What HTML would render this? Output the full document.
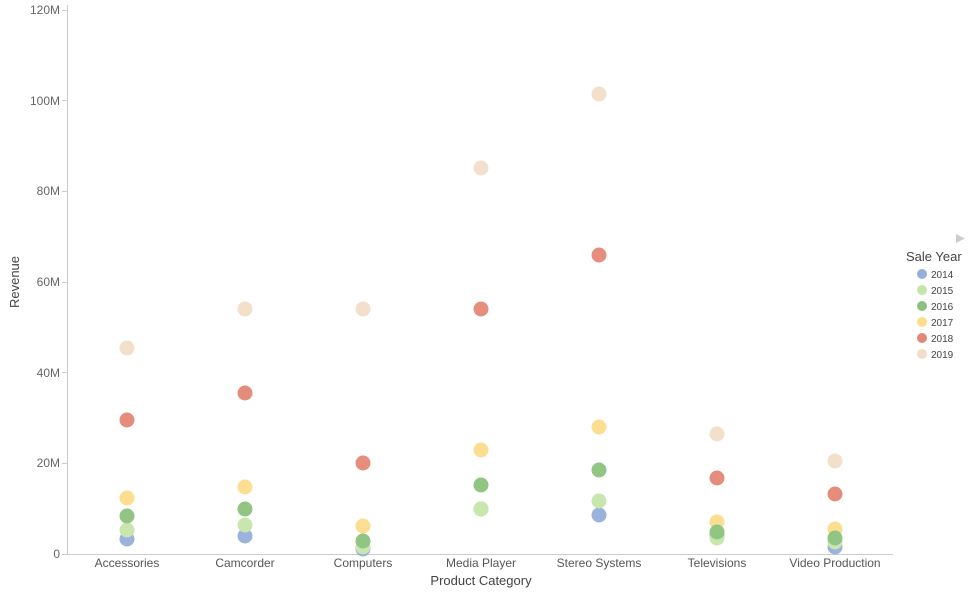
<!DOCTYPE html>
<html><head><meta charset="utf-8"><style>
html,body{margin:0;padding:0;background:#fff;}
svg{display:block;font-family:"Liberation Sans",sans-serif;}
</style></head><body>
<svg width="972" height="593" viewBox="0 0 972 593">
<g fill="#666" font-size="12" text-anchor="end">
<text x="60" y="558">0</text>
<text x="60" y="467">20M</text>
<text x="60" y="377">40M</text>
<text x="60" y="286">60M</text>
<text x="60" y="195">80M</text>
<text x="60" y="105">100M</text>
<text x="60" y="14">120M</text>
</g>
<g stroke="#ccc" stroke-width="1">
<line x1="67.5" y1="5" x2="67.5" y2="554"/>
<line x1="67" y1="554.5" x2="893" y2="554.5"/>
<line x1="62" y1="554.5" x2="67" y2="554.5"/>
<line x1="62" y1="463.5" x2="67" y2="463.5"/>
<line x1="62" y1="372.5" x2="67" y2="372.5"/>
<line x1="62" y1="282.5" x2="67" y2="282.5"/>
<line x1="62" y1="191.5" x2="67" y2="191.5"/>
<line x1="62" y1="100.5" x2="67" y2="100.5"/>
<line x1="62" y1="10.5" x2="67" y2="10.5"/>
</g>
<g fill="#555" font-size="12" text-anchor="middle">
<text x="127" y="567">Accessories</text>
<text x="245" y="567">Camcorder</text>
<text x="363" y="567">Computers</text>
<text x="481" y="567">Media Player</text>
<text x="599" y="567">Stereo Systems</text>
<text x="717" y="567">Televisions</text>
<text x="835" y="567">Video Production</text>
</g>
<text x="481" y="585" fill="#444" font-size="13" text-anchor="middle">Product Category</text>
<text transform="translate(19,282) rotate(-90)" fill="#444" font-size="13" text-anchor="middle">Revenue</text>
<g opacity="0.85">
<!-- 2019 -->
<g fill="#f1dbc3">
<circle cx="127" cy="348" r="7.5"/><circle cx="245" cy="309" r="7.5"/><circle cx="363" cy="309" r="7.5"/><circle cx="481" cy="168" r="7.5"/><circle cx="599" cy="94" r="7.5"/><circle cx="717" cy="434" r="7.5"/><circle cx="835" cy="461" r="7.5"/>
</g>
<g fill="#e07a67">
<circle cx="127" cy="420" r="7.5"/><circle cx="245" cy="393" r="7.5"/><circle cx="363" cy="463" r="7.5"/><circle cx="481" cy="309" r="7.5"/><circle cx="599" cy="255" r="7.5"/><circle cx="717" cy="478" r="7.5"/><circle cx="835" cy="494" r="7.5"/>
</g>
<g fill="#fcd97e">
<circle cx="127" cy="498" r="7.5"/><circle cx="245" cy="487" r="7.5"/><circle cx="363" cy="526" r="7.5"/><circle cx="481" cy="450" r="7.5"/><circle cx="599" cy="427" r="7.5"/><circle cx="717" cy="522" r="7.5"/><circle cx="835" cy="529" r="7.5"/>
</g>
<g fill="#86b6e0" opacity="0">
</g>
<g fill="#8aa6d6">
<circle cx="127" cy="539" r="7.5"/><circle cx="245" cy="536" r="7.5"/><circle cx="363" cy="549" r="7.5"/><circle cx="481" cy="509" r="7.5"/><circle cx="599" cy="515" r="7.5"/><circle cx="717" cy="535" r="7.5"/><circle cx="835" cy="547" r="7.5"/>
</g>
<g fill="#bfe2a0">
<circle cx="127" cy="530" r="7.5"/><circle cx="245" cy="525" r="7.5"/><circle cx="363" cy="547" r="7.5"/><circle cx="481" cy="509" r="7.5"/><circle cx="599" cy="501" r="7.5"/><circle cx="717" cy="538" r="7.5"/><circle cx="835" cy="542" r="7.5"/>
</g>
<g fill="#7fba6f">
<circle cx="127" cy="516" r="7.5"/><circle cx="245" cy="509" r="7.5"/><circle cx="363" cy="541" r="7.5"/><circle cx="481" cy="485" r="7.5"/><circle cx="599" cy="470" r="7.5"/><circle cx="717" cy="532" r="7.5"/><circle cx="835" cy="538" r="7.5"/>
</g>
</g>
<polygon points="956,234 965,238.5 956,243" fill="#ccc"/>
<text x="906" y="261" fill="#444" font-size="13">Sale Year</text>
<g font-size="10" fill="#444">
<circle cx="922" cy="274" r="5" fill="#8aa6d6" opacity="0.9"/><text x="931" y="278">2014</text>
<circle cx="922" cy="290" r="5" fill="#bfe2a0" opacity="0.9"/><text x="931" y="294">2015</text>
<circle cx="922" cy="306" r="5" fill="#7fba6f" opacity="0.9"/><text x="931" y="310">2016</text>
<circle cx="922" cy="322" r="5" fill="#fcd97e" opacity="0.9"/><text x="931" y="326">2017</text>
<circle cx="922" cy="338" r="5" fill="#e07a67" opacity="0.9"/><text x="931" y="342">2018</text>
<circle cx="922" cy="354" r="5" fill="#f1dbc3" opacity="0.9"/><text x="931" y="358">2019</text>
</g>
</svg>
</body></html>
